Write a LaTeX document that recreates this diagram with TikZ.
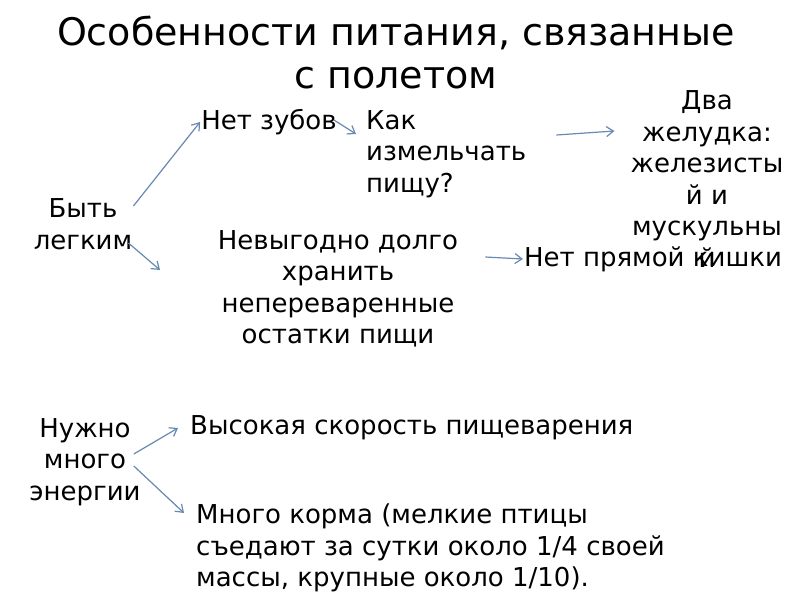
\documentclass[tikz,border=0pt]{standalone}
\usepackage{fontspec}
\setmainfont{DejaVu Sans}
\usetikzlibrary{arrows.meta,positioning}
\definecolor{ArrowBlue}{RGB}{104,137,178}
\tikzset{
  ttl/.style={font=\fontsize{38}{43}\selectfont, align=center, inner sep=0pt},
  lbl/.style={font=\fontsize{26}{31.5}\selectfont, align=center, inner sep=1pt},
  lblleft/.style={lbl, align=left},
  bluearrow/.style={-{Straight Barb[length=7pt,width=10pt]}, line width=1.2pt, draw=ArrowBlue}
}
\begin{document}
\begin{tikzpicture}[x=1pt,y=-1pt]
  \useasboundingbox[fill=white] (0,0) rectangle (800,600);
  \node[ttl] (title) at (396,53) {Особенности питания, связанные\\с полетом};
  % first group
  \node[lbl] (light) at (83,224) {Быть\\легким};
  \node[lbl] (teeth) at (269,122) {Нет зубов};
  \node[lblleft, anchor=west] (grind) at (365,154) {Как\\измельчать\\пищу?};
  \node[lbl] (stomach) at (707,179) {Два\\желудка:\\железисты\\й и\\мускульны\\й};
  \node[lbl] (store) at (338,289) {Невыгодно долго\\хранить\\непереваренные\\остатки пищи};
  \node[lbl] (rectum) at (653,259) {Нет прямой кишки};
  % second group
  \node[lbl] (energy) at (85,462) {Нужно\\много\\энергии};
  \node[lblleft, anchor=west] (digest) at (189,428) {Высокая скорость пищеварения};
  \node[lblleft, anchor=west] (food) at (195,548) {Много корма (мелкие птицы\\съедают за сутки около 1/4 своей\\массы, крупные около 1/10).};
  \coordinate (storetip) at (160,270);
  % arrows
  \draw[bluearrow] ([xshift=0pt,yshift=18pt]light.east) -- (teeth.west);
  \draw[bluearrow] ([xshift=-5pt,yshift=-19pt]light.east) -- (storetip);
  \draw[bluearrow] ([xshift=-4pt,yshift=2pt]teeth.east) -- ([xshift=-9pt,yshift=20pt]grind.west);
  \draw[bluearrow] ([xshift=29pt,yshift=19pt]grind.east) -- ([xshift=-15pt,yshift=48pt]stomach.west);
  \draw[bluearrow] ([xshift=26pt,yshift=32pt]store.east) -- (rectum.west);
  \draw[bluearrow] ([xshift=-8pt,yshift=8pt]energy.east) -- ([xshift=-11pt]digest.west);
  \draw[bluearrow] ([xshift=-8pt,yshift=-4pt]energy.east) -- ([xshift=-11pt,yshift=35pt]food.west);
\end{tikzpicture}
\end{document}
